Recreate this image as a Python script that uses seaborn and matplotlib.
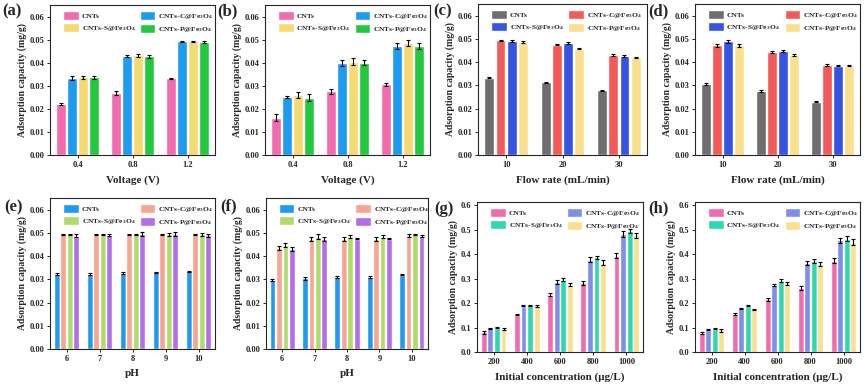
import numpy as np
import pandas as pd
import matplotlib
matplotlib.use('Agg')
import matplotlib.pyplot as plt
import seaborn as sns

# ---------- data ----------
series = ['CNTs', 'CNTs-C@Fe$_3$O$_4$', 'CNTs-S@Fe$_3$O$_4$', 'CNTs-P@Fe$_3$O$_4$']

voltage = ['0.4', '0.8', '1.2']
flow = ['10', '20', '30']
ph = ['6', '7', '8', '9', '10']
conc = ['200', '400', '600', '800', '1000']

a_vals = [[0.0221, 0.0270, 0.0332],
          [0.0334, 0.0430, 0.0493],
          [0.0337, 0.0432, 0.0492],
          [0.0336, 0.0427, 0.0488]]
a_err = [[0.0003, 0.0008, 0.0002],
         [0.0007, 0.0005, 0.0003],
         [0.0007, 0.0006, 0.0004],
         [0.0007, 0.0005, 0.0004]]

b_vals = [[0.0162, 0.0276, 0.0306],
          [0.0251, 0.0400, 0.0474],
          [0.0260, 0.0405, 0.0485],
          [0.0249, 0.0400, 0.0473]]
b_err = [[0.0015, 0.0010, 0.0008],
         [0.0005, 0.0013, 0.0013],
         [0.0013, 0.0014, 0.0014],
         [0.0015, 0.0012, 0.0013]]

c_vals = [[0.0332, 0.0313, 0.0279],
          [0.0493, 0.0475, 0.0431],
          [0.0490, 0.0483, 0.0427],
          [0.0487, 0.0458, 0.0421]]
c_err = [[0.0002, 0.0002, 0.0002],
         [0.0004, 0.0003, 0.0003],
         [0.0004, 0.0004, 0.0003],
         [0.0004, 0.0003, 0.0002]]

d_vals = [[0.0305, 0.0275, 0.0229],
          [0.0472, 0.0443, 0.0388],
          [0.0490, 0.0449, 0.0384],
          [0.0472, 0.0431, 0.0385]]
d_err = [[0.0004, 0.0003, 0.0002],
         [0.0005, 0.0004, 0.0003],
         [0.0006, 0.0004, 0.0003],
         [0.0006, 0.0003, 0.0002]]

e_vals = [[0.0322, 0.0323, 0.0328, 0.0330, 0.0335],
          [0.0493, 0.0493, 0.0493, 0.0493, 0.0493],
          [0.0493, 0.0493, 0.0493, 0.0493, 0.0493],
          [0.0488, 0.0492, 0.0495, 0.0495, 0.0490]]
e_err = [[0.0004, 0.0003, 0.0003, 0.0003, 0.0002],
         [0.0001, 0.0001, 0.0001, 0.0001, 0.0001],
         [0.0004, 0.0004, 0.0004, 0.0005, 0.0006],
         [0.0007, 0.0005, 0.0007, 0.0007, 0.0007]]

f_vals = [[0.0298, 0.0305, 0.0310, 0.0310, 0.0320],
          [0.0435, 0.0472, 0.0472, 0.0473, 0.0490],
          [0.0448, 0.0484, 0.0484, 0.0484, 0.0493],
          [0.0430, 0.0472, 0.0475, 0.0475, 0.0487]]
f_err = [[0.0005, 0.0006, 0.0006, 0.0006, 0.0003],
         [0.0007, 0.0008, 0.0008, 0.0008, 0.0006],
         [0.0008, 0.0009, 0.0006, 0.0006, 0.0002],
         [0.0007, 0.0008, 0.0003, 0.0003, 0.0003]]

g_vals = [[0.080, 0.153, 0.235, 0.282, 0.395],
          [0.097, 0.190, 0.285, 0.378, 0.483],
          [0.100, 0.191, 0.296, 0.387, 0.496],
          [0.096, 0.188, 0.276, 0.366, 0.478]]
g_err = [[0.005, 0.002, 0.005, 0.008, 0.012],
         [0.002, 0.003, 0.008, 0.009, 0.011],
         [0.003, 0.003, 0.007, 0.008, 0.008],
         [0.004, 0.005, 0.007, 0.010, 0.011]]

h_vals = [[0.077, 0.156, 0.215, 0.263, 0.374],
          [0.092, 0.180, 0.274, 0.366, 0.457],
          [0.096, 0.190, 0.292, 0.372, 0.464],
          [0.088, 0.174, 0.282, 0.361, 0.451]]
h_err = [[0.003, 0.003, 0.005, 0.009, 0.010],
         [0.003, 0.002, 0.005, 0.008, 0.010],
         [0.003, 0.003, 0.006, 0.009, 0.010],
         [0.005, 0.004, 0.006, 0.009, 0.013]]

# colour sets used by the panel pairs
pal_ab = ['#F26BAE', '#1C9BEF', '#F4DA70', '#22C93F']
pal_cd = ['#6E6E6E', '#F55A5A', '#3653E4', '#F8E08E']
pal_ef = ['#1E9BF0', '#F8A493', '#AEDB6A', '#B36FEA']
pal_gh = ['#F26BAE', '#7F8EEA', '#2ED8AE', '#F8E08E']

# ---------- style ----------
sns.set_style('ticks')
plt.rcParams['font.family'] = ['Liberation Serif', 'DejaVu Serif']
plt.rcParams['font.weight'] = 'bold'
plt.rcParams['axes.labelweight'] = 'bold'
plt.rcParams['mathtext.fontset'] = 'custom'
plt.rcParams['mathtext.rm'] = 'Liberation Serif:bold'
plt.rcParams['mathtext.it'] = 'Liberation Serif:bold'
plt.rcParams['mathtext.bf'] = 'Liberation Serif:bold'
plt.rcParams['mathtext.default'] = 'rm'

W, H = 865, 384
fig = plt.figure(figsize=(W / 100, H / 100), dpi=100)


def px_axes(l, r, t, b):
    return fig.add_axes([l / W, 1 - b / H, (r - l) / W, (b - t) / H])


def panel(box, label, lab_xy, cats, vals, errs, pal, xlabel, ylim, yticks, yfmt):
    ax = px_axes(*box)
    rows = []
    for s, v in zip(series, vals):
        for c, y in zip(cats, v):
            rows.append({'x': c, 'y': y, 'series': s})
    df = pd.DataFrame(rows)
    sns.barplot(data=df, x='x', y='y', hue='series', hue_order=series,
                palette=pal, width=0.8, gap=0.12, errorbar=None,
                saturation=1, ax=ax)
    for cont, err in zip(ax.containers, errs):
        xs = [p.get_x() + p.get_width() / 2 for p in cont]
        ys = [p.get_height() for p in cont]
        ax.errorbar(xs, ys, yerr=err, fmt='none', ecolor='black',
                    elinewidth=0.8, capsize=1.5, capthick=0.8)
    ax.set_ylim(*ylim)
    ax.set_yticks(yticks)
    ax.set_yticklabels([yfmt.format(t) for t in yticks])
    ax.set_xlim(-0.5, len(cats) - 0.5)
    ax.tick_params(labelsize=6, length=2.5, width=0.7, pad=1.5)
    for sp in ax.spines.values():
        sp.set_visible(True)
        sp.set_linewidth(0.8)
    ax.set_xlabel(xlabel, fontsize=8, labelpad=5)
    ax.set_ylabel('Adsorption capacity (mg/g)', fontsize=7, labelpad=2)
    # row-wise legend order: CNTs | C  /  S | P
    handles, labels = ax.get_legend_handles_labels()
    order = [0, 2, 1, 3]
    ax.legend([handles[i] for i in order], [labels[i] for i in order],
              ncol=2, frameon=False, loc='upper left',
              bbox_to_anchor=(0.05, 0.99),
              fontsize=5.4, handlelength=2.1, handleheight=1.4,
              columnspacing=0.6, labelspacing=0.45, handletextpad=0.4,
              borderaxespad=0.2)
    fig.text(lab_xy[0] / W, 1 - lab_xy[1] / H, label, va='top',
             fontsize=12, fontweight='bold')
    return ax


v_ticks = [0.0, 0.01, 0.02, 0.03, 0.04, 0.05, 0.06]
c_ticks = [0.0, 0.1, 0.2, 0.3, 0.4, 0.5, 0.6]

panel((50, 215, 5, 155), '(a)', (2, 3), voltage, a_vals, a_err, pal_ab,
      'Voltage (V)', (0, 0.065), v_ticks, '{:.2f}')
panel((265, 430, 5, 155), '(b)', (217, 3), voltage, b_vals, b_err, pal_ab,
      'Voltage (V)', (0, 0.065), v_ticks, '{:.2f}')
panel((478, 647, 4, 155), '(c)', (433, 3), flow, c_vals, c_err, pal_cd,
      'Flow rate (mL/min)', (0, 0.065), v_ticks, '{:.2f}')
panel((695, 860, 4, 155), '(d)', (648, 3), flow, d_vals, d_err, pal_cd,
      'Flow rate (mL/min)', (0, 0.065), v_ticks, '{:.2f}')
panel((50, 215, 198, 349), '(e)', (4, 199), ph, e_vals, e_err, pal_ef,
      'pH', (0, 0.065), v_ticks, '{:.2f}')
panel((266, 428, 198, 349), '(f)', (220, 198), ph, f_vals, f_err, pal_ef,
      'pH', (0, 0.065), v_ticks, '{:.2f}')
panel((477, 643, 202, 352), '(g)', (434, 201), conc, g_vals, g_err, pal_gh,
      'Initial concentration (μg/L)', (0, 0.614), c_ticks, '{:.1f}')
panel((695, 860, 202, 352), '(h)', (648, 200), conc, h_vals, h_err, pal_gh,
      'Initial concentration (μg/L)', (0, 0.614), c_ticks, '{:.1f}')

fig.savefig('out.png', dpi=100)
